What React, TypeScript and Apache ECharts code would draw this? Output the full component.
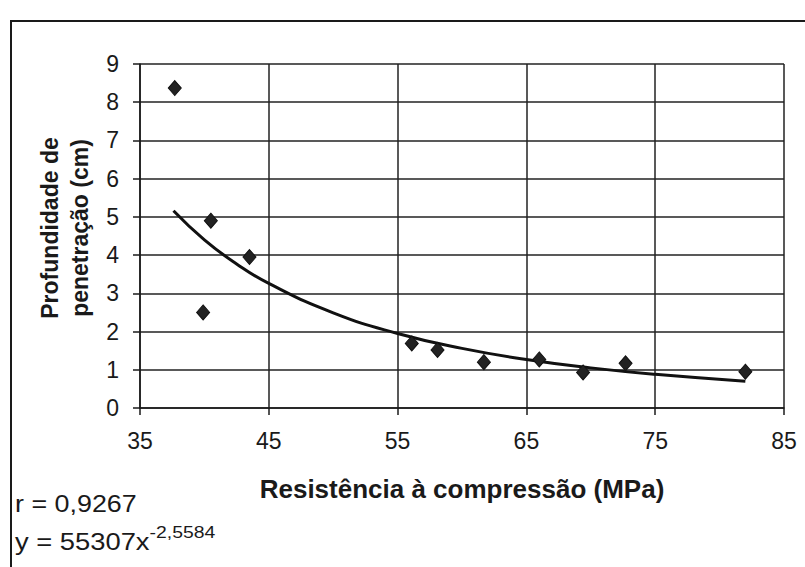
import React, { useEffect, useRef } from "react";
import * as echarts from "echarts";

// Measured points: compressive strength (MPa) vs penetration depth (cm)
const strength = [37.7, 39.9, 40.5, 43.5, 56.1, 58.1, 61.7, 66.0, 69.4, 72.7, 82.0];
const depth = [8.37, 2.5, 4.9, 3.95, 1.69, 1.52, 1.2, 1.27, 0.93, 1.17, 0.95];

// Power trend line
const trendX = [37.6, 40, 42.5, 45, 50, 55, 60, 65, 70, 75, 82];
const trendY = [5.16, 4.4, 3.77, 3.26, 2.49, 1.95, 1.56, 1.27, 1.05, 0.88, 0.7];

const xTicks = [35, 45, 55, 65, 75, 85];
const yTicks = [0, 1, 2, 3, 4, 5, 6, 7, 8, 9];

const rText = "r = 0,9267";
const eqBase = "y = 55307x";
const eqExp = "-2,5584";

const FONT = "Liberation Sans, Arial, sans-serif";

export default function App() {
  const ref = useRef<HTMLDivElement>(null);
  useEffect(() => {
    if (!ref.current) return;
    const chart = echarts.init(ref.current, undefined, { renderer: "svg" });
    chart.setOption({
      animation: false,
      backgroundColor: "#ffffff",
      grid: { left: 140, right: 21, top: 64, bottom: 159, containLabel: false },
      xAxis: {
        type: "value",
        min: xTicks[0],
        max: xTicks[xTicks.length - 1],
        interval: 10,
        name: "Resistência à compressão (MPa)",
        nameLocation: "middle",
        nameGap: 68,
        nameTextStyle: { fontFamily: FONT, fontSize: 26, fontWeight: "bold", color: "#1a1a1a" },
        axisLine: { show: true, lineStyle: { color: "#1a1a1a", width: 1.5 } },
        axisTick: { show: true, inside: false, length: 7, lineStyle: { color: "#1a1a1a", width: 1.5 } },
        axisLabel: { fontFamily: FONT, fontSize: 23, color: "#1a1a1a", margin: 21 },
        splitLine: { show: true, lineStyle: { color: "#222222", width: 1.5 } },
      },
      yAxis: {
        type: "value",
        min: yTicks[0],
        max: yTicks[yTicks.length - 1],
        interval: 1,
        name: "Profundidade de\npenetração (cm)",
        nameLocation: "middle",
        nameGap: 35,
        nameTextStyle: {
          fontFamily: FONT,
          fontSize: 23,
          fontWeight: "bold",
          color: "#1a1a1a",
          lineHeight: 30,
          padding: [0, 0, 0, 16],
        },
        axisLine: { show: true, lineStyle: { color: "#1a1a1a", width: 1.5 } },
        axisTick: { show: true, inside: false, length: 7, lineStyle: { color: "#1a1a1a", width: 1.5 } },
        axisLabel: { fontFamily: FONT, fontSize: 23, color: "#1a1a1a", margin: 21 },
        splitLine: { show: true, lineStyle: { color: "#222222", width: 1.5 } },
      },
      series: [
        {
          type: "line",
          data: trendX.map((x, i) => [x, trendY[i]]),
          smooth: true,
          showSymbol: false,
          symbol: "none",
          lineStyle: { color: "#111111", width: 3 },
          z: 3,
        },
        {
          type: "scatter",
          data: strength.map((x, i) => [x, depth[i]]),
          symbol: "diamond",
          symbolSize: [13, 15],
          itemStyle: { color: "#222222", borderColor: "#111111", borderWidth: 1, opacity: 1 },
          z: 4,
        },
      ],
      graphic: [
        {
          type: "rect",
          shape: { x: 11, y: 21, width: 820, height: 580 },
          style: { fill: "none", stroke: "#1a1a1a", lineWidth: 2 },
          silent: true,
          z: -1,
        },
        {
          type: "text",
          x: 15,
          y: 504,
          scaleX: 1.12,
          style: { text: rText, fontFamily: FONT, fontSize: 24, fill: "#1a1a1a", verticalAlign: "middle" },
        },
        {
          type: "text",
          x: 15,
          y: 539,
          scaleX: 1.14,
          style: {
            text: "{b|" + eqBase + "}{s|" + eqExp + "}",
            verticalAlign: "middle",
            rich: {
              b: { fontFamily: FONT, fontSize: 24, fill: "#1a1a1a", lineHeight: 30, verticalAlign: "bottom" },
              s: { fontFamily: FONT, fontSize: 17, fill: "#1a1a1a", lineHeight: 30, verticalAlign: "top" },
            },
          },
        },
      ],
    });
    return () => chart.dispose();
  }, []);
  return (
    <div
      ref={ref}
      style={{ position: "absolute", left: 0, top: 0, width: 805, height: 567 }}
    />
  );
}
